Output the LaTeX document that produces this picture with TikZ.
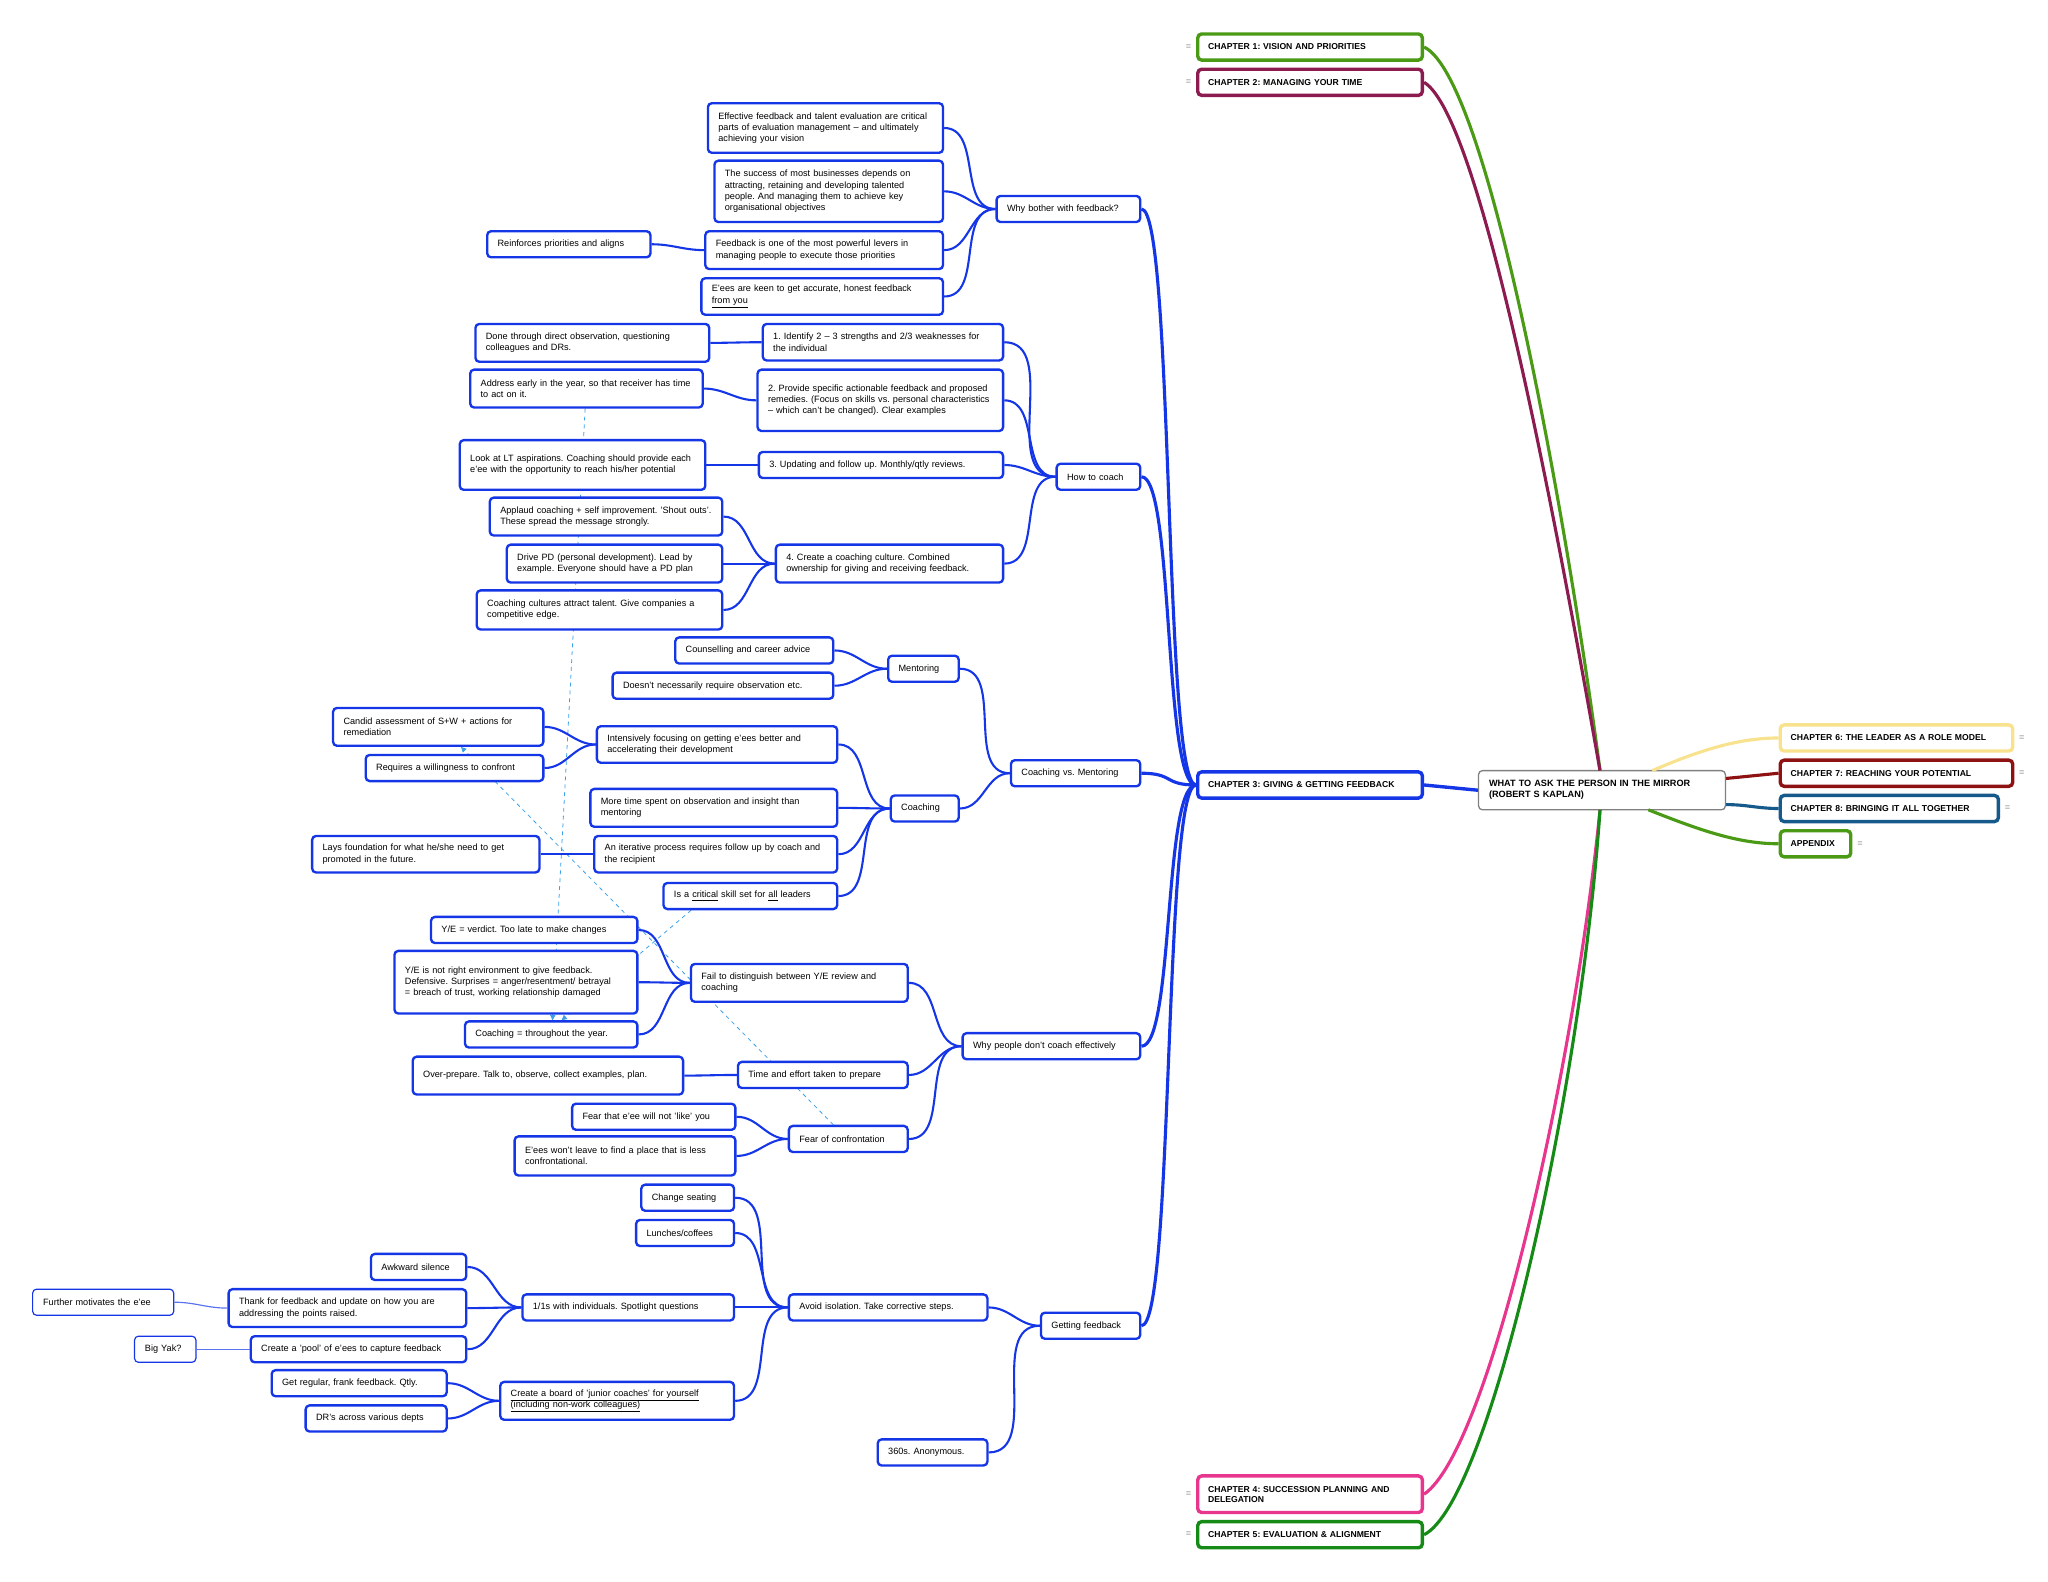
\documentclass[tikz,border=0pt]{standalone}
\usepackage{fontspec}
\setmainfont{Liberation Sans}
\usetikzlibrary{arrows.meta}
\pgfdeclarelayer{bg}\pgfsetlayers{bg,main}
\definecolor{mb}{HTML}{1436E6}
\definecolor{cgreen}{HTML}{4A9A16}
\definecolor{cmaroon}{HTML}{8C1B50}
\definecolor{cpink}{HTML}{E8368F}
\definecolor{cgreen2}{HTML}{168A16}
\definecolor{cyel}{HTML}{F8E28E}
\definecolor{cred}{HTML}{8E1212}
\definecolor{cblue}{HTML}{165A8C}
\definecolor{dash}{HTML}{3AA0E8}
\frenchspacing
\hyphenpenalty=10000 \exhyphenpenalty=10000
\tikzset{
 box/.style={draw=mb,line width=1.8pt,rounded corners=3pt,fill=white,inner xsep=8pt,inner ysep=1pt,align=left,font=\fontsize{7}{8.6}\selectfont},
 thin/.style={box,line width=0.9pt},
 chap/.style={box,line width=2.6pt,font=\fontsize{6.6}{7.8}\selectfont\bfseries},
 lk/.style={draw=mb,line width=1.6pt},
 lk2/.style={draw=mb,line width=2.4pt},
 lkt/.style={draw=mb!70,line width=0.9pt},
 dl/.style={draw=dash,dashed,line width=0.6pt,-{Triangle[length=4pt,width=4pt]}},
 mk/.style={text=gray,font=\fontsize{7}{7}\selectfont}
}
\newcommand\bx[7]{%
 \pgfmathsetmacro\bw{#4-#2}\pgfmathsetmacro\bh{#5-#3}\pgfmathsetmacro\tw{#4-#2-16}%
 \node[#6,minimum width=\bw pt,minimum height=\bh pt,text width=\tw pt] (#1) at ({(#2+#4)/2},{(#3+#5)/2}) {#7};}
\newcommand\lnk[3][lk]{\draw[#1] (#2.east) to[out=0,in=180] (#3.west);}
\begin{document}
\begin{tikzpicture}[x=1pt,y=-1pt]
\useasboundingbox (0,0) rectangle (1568,1211);
\coordinate (rt) at (1225,590);
\coordinate (rb) at (1225,620);
\coordinate (rt2) at (1265,590);
\coordinate (rb2) at (1262,620);
\bx{root}{1132}{590}{1321}{620}{box,draw=gray,line width=1pt,font=\fontsize{7}{8.4}\selectfont\bfseries}{WHAT TO ASK THE PERSON IN THE MIRROR (ROBERT S KAPLAN)}
\bx{c1}{917}{26}{1089}{46}{chap,draw=cgreen}{CHAPTER 1: VISION AND PRIORITIES}
\bx{c2}{917}{53}{1089}{73}{chap,draw=cmaroon}{CHAPTER 2: MANAGING YOUR TIME}
\bx{c3}{917}{591}{1089}{611}{chap,draw=mb}{CHAPTER 3: GIVING \& GETTING FEEDBACK}
\bx{c4}{917}{1130}{1089}{1158}{chap,draw=cpink}{CHAPTER 4: SUCCESSION PLANNING AND DELEGATION}
\bx{c5}{917}{1165}{1089}{1185}{chap,draw=cgreen2}{CHAPTER 5: EVALUATION \& ALIGNMENT}
\bx{c6}{1363}{555}{1541}{575}{chap,draw=cyel}{CHAPTER 6: THE LEADER AS A ROLE MODEL}
\bx{c7}{1363}{582}{1541}{602}{chap,draw=cred}{CHAPTER 7: REACHING YOUR POTENTIAL}
\bx{c8}{1363}{609}{1530}{629}{chap,draw=cblue}{CHAPTER 8: BRINGING IT ALL TOGETHER}
\bx{app}{1363}{636}{1417}{656}{chap,draw=cgreen}{APPENDIX}
\node[mk] (m1) at (910,36) {=};
\node[mk] (m2) at (910,63) {=};
\node[mk] (m4) at (910,1144) {=};
\node[mk] (m5) at (910,1175) {=};
\node[mk] (m6) at (1548,565) {=};
\node[mk] (m7) at (1548,592) {=};
\node[mk] (m8) at (1537,619) {=};
\node[mk] (ma) at (1424,646) {=};
\draw[cgreen,line width=2.4pt] (c1.east) .. controls (1140,60) and (1200,400) .. (rt);
\draw[cmaroon,line width=2.4pt] (c2.east) .. controls (1135,90) and (1195,420) .. (rt);
\draw[cpink,line width=2.4pt] (c4.east) .. controls (1140,1110) and (1205,820) .. (rb);
\draw[cgreen2,line width=2.4pt] (c5.east) .. controls (1140,1150) and (1210,840) .. (rb);
\draw[cyel,line width=2.4pt] (rt2) .. controls (1300,575) and (1330,565) .. (c6.west);
\draw[cred,line width=2.4pt] (root.east |- 0,596) -- (c7.west);
\draw[cblue,line width=2.4pt] (root.east |- 0,616) to[out=0,in=180] (c8.west);
\draw[cgreen,line width=2.4pt] (rb2) .. controls (1300,635) and (1330,646) .. (app.west);
\draw[mb,line width=2.6pt] (c3.east) -- (root.west);
% level 2
\bx{why}{763}{150}{873}{170}{box}{Why bother with feedback?}
\bx{how}{809}{355}{873}{375}{box}{How to coach}
\bx{cvm}{774}{582}{873}{602}{box}{Coaching vs. Mentoring}
\bx{wpd}{737}{791}{873}{811}{box}{Why people don't coach effectively}
\bx{gf}{797}{1005}{873}{1025}{box}{Getting feedback}
\foreach \n in {why,how,cvm,wpd,gf}{\draw[lk2] (\n.east) .. controls +(25,0) and +(-25,0) .. (c3.west);}
% why bother
\bx{w1}{542}{79}{722}{117}{box}{Effective feedback and talent evaluation are critical parts of evaluation management – and ultimately achieving your vision}
\bx{w2}{547}{123}{722}{170}{box}{The success of most businesses depends on attracting, retaining and developing talented people. And managing them to achieve key organisational objectives}
\bx{w3}{540}{177}{722}{206}{box}{Feedback is one of the most powerful levers in managing people to execute those priorities}
\bx{w3a}{373}{177}{498}{197}{box}{Reinforces priorities and aligns}
\bx{w4}{537}{213}{722}{241}{box}{E'ees are keen to get accurate, honest feedback \underline{from you}}
\foreach \n in {w1,w2,w3,w4}{\lnk{\n}{why}}
\lnk{w3a}{w3}
% how to coach
\bx{h1}{584}{248}{768}{276}{box}{1. Identify 2 – 3 strengths and 2/3 weaknesses for the individual}
\bx{h1a}{364}{248}{543}{277}{box}{Done through direct observation, questioning colleagues and DRs.}
\bx{h2}{580}{283}{768}{330}{box}{2. Provide specific actionable feedback and proposed remedies. (Focus on skills vs. personal characteristics – which can't be changed). Clear examples}
\bx{h2a}{360}{283}{538}{312}{box}{Address early in the year, so that receiver has time to act on it.}
\bx{h3}{581}{346}{768}{366}{box}{3. Updating and follow up. Monthly/qtly reviews.}
\bx{h3a}{352}{337}{540}{375}{box}{Look at LT aspirations. Coaching should provide each e'ee with the opportunity to reach his/her potential}
\bx{h4}{594}{417}{768}{446}{box}{4. Create a coaching culture. Combined ownership for giving and receiving feedback.}
\bx{h4a}{375}{381}{553}{410}{box}{Applaud coaching + self improvement. 'Shout outs'. These spread the message strongly.}
\bx{h4b}{388}{417}{553}{446}{box}{Drive PD (personal development). Lead by example. Everyone should have a PD plan}
\bx{h4c}{365}{452}{553}{482}{box}{Coaching cultures attract talent. Give companies a competitive edge.}
\foreach \n in {h1,h2,h3,h4}{\lnk{\n}{how}}
\lnk{h1a}{h1}\lnk{h2a}{h2}\lnk{h3a}{h3}
\lnk{h4a}{h4}\lnk{h4b}{h4}\lnk{h4c}{h4}
% coaching vs mentoring
\bx{men}{680}{502}{734}{522}{box}{Mentoring}
\bx{m1}{517}{488}{638}{508}{box}{Counselling and career advice}
\bx{m2}{469}{515}{638}{535}{box}{Doesn't necessarily require observation etc.}
\bx{coa}{682}{609}{734}{629}{box}{Coaching}
\bx{k1}{457}{556}{641}{584}{box}{Intensively focusing on getting e'ees better and accelerating their development}
\bx{k1a}{255}{542}{416}{571}{box}{Candid assessment of S+W + actions for remediation}
\bx{k1b}{280}{578}{416}{598}{box}{Requires a willingness to confront}
\bx{k2}{452}{604}{641}{633}{box}{More time spent on observation and insight than mentoring}
\bx{k3}{455}{640}{641}{668}{box}{An iterative process requires follow up by coach and the recipient}
\bx{k3a}{239}{640}{413}{668}{box}{Lays foundation for what he/she need to get promoted in the future.}
\bx{k4}{508}{676}{641}{696}{box}{Is a \underline{critical} skill set for \underline{all} leaders}
\lnk{men}{cvm}\lnk{coa}{cvm}\lnk{m1}{men}\lnk{m2}{men}
\foreach \n in {k1,k2,k3,k4}{\lnk{\n}{coa}}
\lnk{k1a}{k1}\lnk{k1b}{k1}\lnk{k3a}{k3}
% why people don't coach
\bx{f1}{529}{738}{695}{767}{box}{Fail to distinguish between Y/E review and coaching}
\bx{f1a}{330}{702}{488}{722}{box}{Y/E = verdict. Too late to make changes}
\bx{f1b}{302}{728}{488}{776}{box}{Y/E is not right environment to give feedback. Defensive. Surprises = anger/resentment/ betrayal = breach of trust, working relationship damaged}
\bx{f1c}{356}{782}{488}{802}{box}{Coaching = throughout the year.}
\bx{f2}{565}{813}{695}{833}{box}{Time and effort taken to prepare}
\bx{f2a}{316}{809}{523}{838}{box}{Over-prepare. Talk to, observe, collect examples, plan.}
\bx{f3}{604}{862}{695}{882}{box}{Fear of confrontation}
\bx{f3a}{438}{845}{563}{865}{box}{Fear that e'ee will not 'like' you}
\bx{f3b}{394}{870}{563}{900}{box}{E'ees won't leave to find a place that is less confrontational.}
\foreach \n in {f1,f2,f3}{\lnk{\n}{wpd}}
\lnk{f1a}{f1}\lnk{f1b}{f1}\lnk{f1c}{f1}\lnk{f2a}{f2}\lnk{f3a}{f3}\lnk{f3b}{f3}
% getting feedback
\bx{g1}{604}{991}{756}{1011}{box}{Avoid isolation. Take corrective steps.}
\bx{g2}{672}{1102}{756}{1122}{box}{360s. Anonymous.}
\bx{g1a}{491}{907}{562}{927}{box}{Change seating}
\bx{g1b}{487}{934}{562}{954}{box}{Lunches/coffees}
\bx{g1c}{400}{991}{562}{1011}{box}{1/1s with individuals. Spotlight questions}
\bx{g1d}{383}{1058}{562}{1087}{box}{\underline{Create a board of 'junior coaches' for yourself}\\\underline{(including non-work colleagues)}}
\bx{q1}{284}{960}{357}{980}{box}{Awkward silence}
\bx{q2}{175}{987}{357}{1016}{box}{Thank for feedback and update on how you are addressing the points raised.}
\bx{q2a}{25}{987}{133}{1007}{thin}{Further motivates the e'ee}
\bx{q3}{192}{1023}{357}{1043}{box}{Create a 'pool' of e'ees to capture feedback}
\bx{q3a}{103}{1023}{150}{1043}{thin}{Big Yak?}
\bx{r1}{208}{1049}{342}{1069}{box}{Get regular, frank feedback. Qtly.}
\bx{r2}{234}{1076}{342}{1096}{box}{DR's across various depts}
\lnk{g1}{gf}\lnk{g2}{gf}
\foreach \n in {g1a,g1b,g1c,g1d}{\lnk{\n}{g1}}
\foreach \n in {q1,q2,q3}{\lnk{\n}{g1c}}
\lnk[lkt]{q2a}{q2}\lnk[lkt]{q3a}{q3}
\lnk{r1}{g1d}\lnk{r2}{g1d}
% relationship dashed lines (behind boxes)
\begin{pgfonlayer}{bg}
\draw[dl] (h2a.south -| 448,0) -- (f1c.north -| 423,0);
\draw[dl] (k4.south west) ++(22,0) -- (f1c.north -| 430,0);
\draw[dl] (f3.north -| 638,0) -- (k1a.south -| 353,0);
\end{pgfonlayer}
\end{tikzpicture}
\end{document}
